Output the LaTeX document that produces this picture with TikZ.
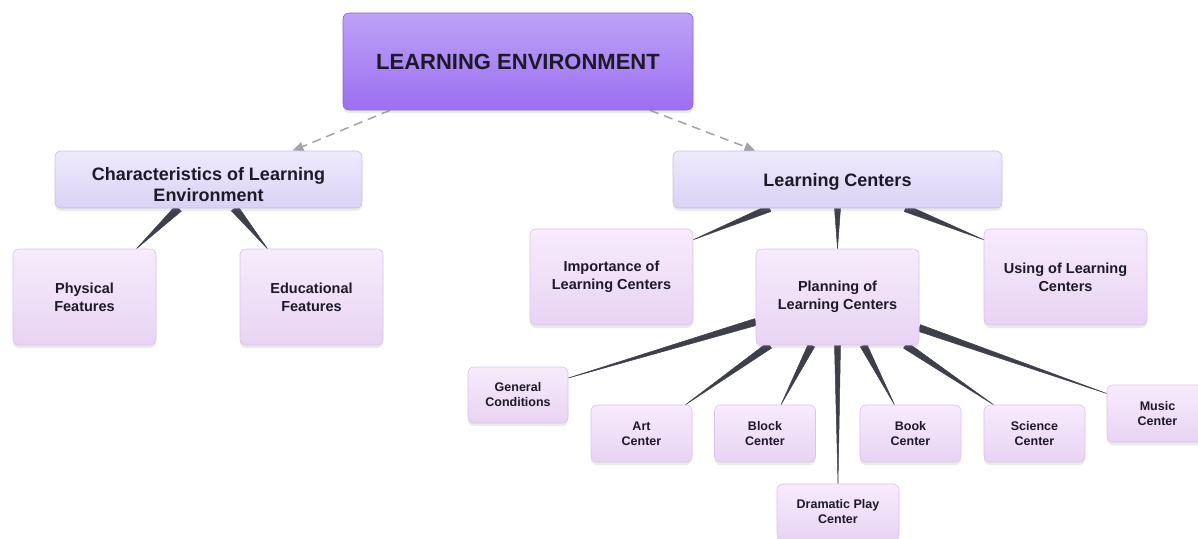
\documentclass[tikz,border=0pt]{standalone}
\usepackage{fontspec}
\setmainfont{Liberation Sans}
\usetikzlibrary{calc,shadows,arrows.meta}
\pgfdeclarelayer{background}
\pgfsetlayers{background,main}
\definecolor{txt}{HTML}{1C1A27}
\definecolor{rootT}{HTML}{BCA2F7}
\definecolor{rootB}{HTML}{9C6FF1}
\definecolor{rootD}{HTML}{8B62DE}
\definecolor{midT}{HTML}{EEEAFC}
\definecolor{midB}{HTML}{DAD2F5}
\definecolor{midD}{HTML}{C8BEEC}
\definecolor{leafT}{HTML}{F7EBFC}
\definecolor{leafB}{HTML}{E8D4F3}
\definecolor{leafD}{HTML}{DAC3EA}
\definecolor{conn}{HTML}{3D3F4A}
\definecolor{dashgray}{HTML}{A3A3A8}
\tikzset{
  box/.style={rectangle, rounded corners=6pt, line width=0.6pt, align=center,
    text=txt, inner sep=2pt,
    drop shadow={opacity=0.16, shadow xshift=0pt, shadow yshift=-3pt}},
  rootbox/.style={box, top color=rootT, bottom color=rootB, draw=rootD,
    font=\fontsize{22}{26}\selectfont\bfseries},
  midbox/.style={box, top color=midT, bottom color=midB, draw=midD,
    font=\fontsize{18}{21.5}\selectfont\bfseries},
  leafbox/.style={box, top color=leafT, bottom color=leafB, draw=leafD,
    font=\fontsize{14.5}{18}\selectfont\bfseries},
  smallbox/.style={box, top color=leafT, bottom color=leafB, draw=leafD,
    font=\fontsize{12.5}{15}\selectfont\bfseries},
  dasharrow/.style={draw=dashgray, line width=1.5pt, dash pattern=on 9pt off 6pt,
    -{Triangle[length=11pt,width=9pt]}},
  taperfill/.style={fill=conn, draw=conn, line width=0.5pt, line join=round},
}
\newcommand\taperline[3]{%
  \fill[taperfill] ($(#1)!#3!90:(#2)$) -- ($(#1)!#3!-90:(#2)$) -- (#2) -- cycle;}
\newcommand\lowtext[2]{\raisebox{-#1}[0pt][0pt]{\parbox{300pt}{\centering #2}}}
\begin{document}
\begin{tikzpicture}[x=1pt,y=-1pt]
\useasboundingbox (0,0) rectangle (1198,538);
% nodes
\node[rootbox, minimum width=350pt, minimum height=97pt] (root) at (518,61.5) {LEARNING ENVIRONMENT};
\node[midbox, minimum width=307pt, minimum height=57pt] (char) at (208.5,179.5) {\lowtext{9.5pt}{Characteristics of Learning\\Environment}};
\node[midbox, minimum width=329pt, minimum height=57pt] (lc) at (837.5,179.5) {\lowtext{6.5pt}{Learning Centers}};
\node[leafbox, minimum width=143pt, minimum height=96pt] (phys) at (84.5,297) {Physical\\Features};
\node[leafbox, minimum width=143pt, minimum height=96pt] (edu) at (311.5,297) {Educational\\Features};
\node[leafbox, minimum width=163pt, minimum height=96pt] (imp) at (611.5,277) {Importance of\\Learning Centers};
\node[leafbox, minimum width=163pt, minimum height=96pt] (plan) at (837.5,297) {Planning of\\Learning Centers};
\node[leafbox, minimum width=163pt, minimum height=96pt] (use) at (1065.5,277) {Using of Learning\\Centers};
\node[smallbox, minimum width=100pt, minimum height=56pt] (gen) at (518,395) {General\\Conditions};
\node[smallbox, minimum width=101pt, minimum height=57pt] (art) at (641.5,433.5) {Art\\Center};
\node[smallbox, minimum width=101pt, minimum height=57pt] (block) at (765,433.5) {Block\\Center};
\node[smallbox, minimum width=122pt, minimum height=56pt] (drama) at (838,512) {Dramatic Play\\Center};
\node[smallbox, minimum width=101pt, minimum height=57pt] (book) at (910.5,433.5) {Book\\Center};
\node[smallbox, minimum width=101pt, minimum height=57pt] (sci) at (1034.5,433.5) {Science\\Center};
\node[smallbox, minimum width=101pt, minimum height=57pt] (music) at (1157.5,413.5) {Music\\Center};
% connector points
\coordinate (rL) at ([xshift=-128pt]root.south);
\coordinate (rR) at ([xshift=132pt]root.south);
\coordinate (cT) at ([xshift=84pt]char.north);
\coordinate (lT) at ([xshift=-82pt]lc.north);
\coordinate (c1) at ([xshift=-30pt]char.south);
\coordinate (c2) at ([xshift=26pt]char.south);
\coordinate (p1e) at ([xshift=52pt]phys.north);
\coordinate (e1e) at ([xshift=-44pt]edu.north);
\coordinate (l1) at ([xshift=-68pt]lc.south);
\coordinate (l2) at (lc.south);
\coordinate (l3) at ([xshift=68pt]lc.south);
\coordinate (impE) at ([yshift=-11pt]imp.north east);
\coordinate (useE) at ([yshift=-11pt]use.north west);
\coordinate (pg) at ([yshift=-25pt]plan.west);
\coordinate (pa) at ([xshift=-68pt]plan.south);
\coordinate (pb) at ([xshift=-26pt]plan.south);
\coordinate (pd) at (plan.south);
\coordinate (pk) at ([xshift=26pt]plan.south);
\coordinate (ps) at ([xshift=68pt]plan.south);
\coordinate (pm) at ([yshift=-31pt]plan.east);
\coordinate (genE) at ([yshift=17pt]gen.east);
\coordinate (artE) at ([xshift=44pt]art.north);
\coordinate (blockE) at ([xshift=16pt]block.north);
\coordinate (bookE) at ([xshift=-16pt]book.north);
\coordinate (sciE) at ([xshift=-41pt]sci.north);
\coordinate (musE) at ([yshift=20pt]music.west);
\begin{pgfonlayer}{background}
\fill[white] (0,0) rectangle (1198,538);
\draw[dasharrow] (rL) -- (cT);
\draw[dasharrow] (rR) -- (lT);
\taperline{c1}{p1e}{4pt}
\taperline{c2}{e1e}{4pt}
\taperline{l1}{impE}{3.5pt}
\taperline{l2}{plan.north}{3pt}
\taperline{l3}{useE}{3.5pt}
\taperline{pg}{genE}{3.5pt}
\taperline{pa}{artE}{3.5pt}
\taperline{pb}{blockE}{3.5pt}
\taperline{pd}{drama.north}{3pt}
\taperline{pk}{bookE}{3.5pt}
\taperline{ps}{sciE}{3.5pt}
\taperline{pm}{musE}{3.5pt}
\end{pgfonlayer}
\end{tikzpicture}
\end{document}
